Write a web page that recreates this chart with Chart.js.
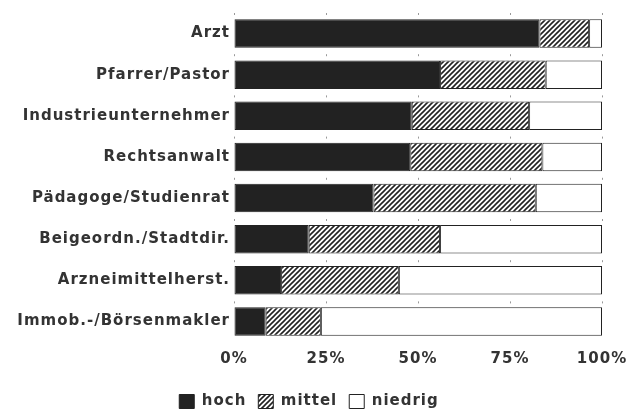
<!DOCTYPE html>
<html>
<head>
<meta charset="utf-8">
<script src="https://cdn.jsdelivr.net/npm/chart.js@4/dist/chart.umd.min.js"></script>
<style>
  html, body { margin:0; padding:0; background:#fff; }
  #wrap { width:627px; height:409px; }
</style>
</head>
<body>
<div id="wrap"><canvas id="ch"></canvas></div>
<script>
// Berufsprestige: Anteil hoch / mittel / niedrig (%)
const categories = ["Arzt","Pfarrer/Pastor","Industrieunternehmer","Rechtsanwalt",
  "Pädagoge/Studienrat","Beigeordn./Stadtdir.","Arzneimittelherst.","Immob.-/Börsenmakler"];
const hoch    = [83, 56, 48.3, 47.9, 37.9, 20.3, 12.8, 8.6];
const mittel  = [13.5, 28.7, 31.9, 35.9, 44.1, 35.7, 32, 15];
const niedrig = [3.5, 15.3, 19.8, 16.2, 18, 44, 55.2, 76.4];
const xTicks  = [0, 25, 50, 75, 100];

const INK = "#222";
const FONT = "'DejaVu Sans', 'Liberation Sans', Arial, sans-serif";

function hatch(){
  // diagonal "/" hatching for the mittel series
  const c = document.createElement("canvas");
  c.width = 5; c.height = 5;
  const g = c.getContext("2d");
  g.fillStyle = "#fff"; g.fillRect(0,0,5,5);
  g.strokeStyle = INK; g.lineWidth = 1.6;
  g.beginPath();
  g.moveTo(0,5); g.lineTo(5,0);
  g.moveTo(-1,1); g.lineTo(1,-1);
  g.moveTo(4,6); g.lineTo(6,4);
  g.stroke();
  return g.createPattern(c, "repeat");
}

// wider letters like the scanned original
const spacing = {
  id:"spacing",
  beforeUpdate(chart){ chart.ctx.letterSpacing = "1px"; },
  beforeDraw(chart){ chart.ctx.letterSpacing = "1px"; }
};

const ds = (label, data, bg) => ({
  label, data, backgroundColor: bg, borderColor: INK, borderWidth: 1,
  borderSkipped: false, barPercentage: 0.69, categoryPercentage: 1
});

new Chart(document.getElementById("ch"), {
  type: "bar",
  data: {
    labels: categories,
    datasets: [
      ds("hoch", hoch, INK),
      ds("mittel", mittel, hatch()),
      ds("niedrig", niedrig, "#fff")
    ]
  },
  options: {
    indexAxis: "y",
    responsive: true,
    maintainAspectRatio: false,
    animation: false,
    layout: { padding: { left: 0, right: 9, top: 12.6, bottom: -10 } },
    scales: {
      x: {
        stacked: true, min: 0, max: 100,
        afterBuildTicks(s){ s.ticks = xTicks.map(v => ({value: v})); },
        border: { display: false, dash: [2, 39.2] },
        grid: { color: "#999", lineWidth: 1, drawTicks: false },
        ticks: { padding: 8, color: "#333", font: { family: FONT, size: 15, weight: "bold" },
          callback: v => v + "%" },
        afterFit(s){ s.height = 40; s.paddingLeft = 0; s.paddingRight = 25; }
      },
      y: {
        stacked: true,
        border: { display: false },
        grid: { display: false, drawTicks: false },
        ticks: { padding: 4, color: "#333", font: { family: FONT, size: 15, weight: "bold" } },
        afterFit(s){ s.width = 234; }
      }
    },
    plugins: {
      tooltip: { enabled: false },
      legend: {
        position: "bottom",
        labels: {
          boxWidth: 15, boxHeight: 14, padding: 12, color: "#333",
          font: { family: FONT, size: 15, weight: "bold" }
        }
      }
    }
  },
  plugins: [spacing]
});
</script>
</body>
</html>
